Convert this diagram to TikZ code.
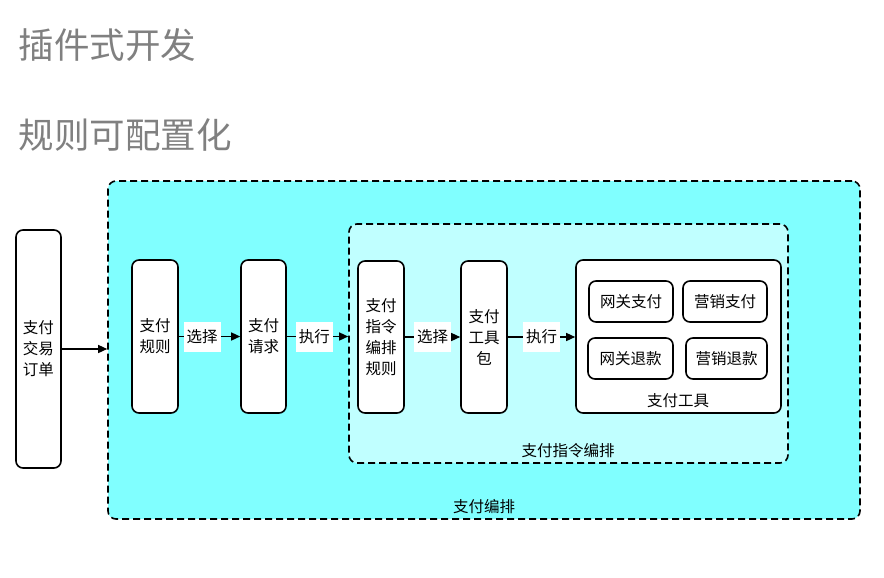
\documentclass[tikz,border=0pt]{standalone}
\usepackage{fontspec}
\setmainfont{Noto Sans CJK SC}
\usetikzlibrary{arrows.meta}
\definecolor{titlegray}{RGB}{128,128,128}
\definecolor{outercyan}{RGB}{128,255,255}
\definecolor{innercyan}{RGB}{192,255,255}
\tikzset{
    box/.style={draw=black, line width=1.6pt, fill=white, rounded corners=7pt,
        align=center, font=\fontsize{15.5}{21}\selectfont, inner sep=0pt},
    group/.style={draw=black, line width=1.6pt, dash pattern=on 7pt off 4pt,
        rounded corners=8pt, inner sep=0pt},
    flow/.style={line width=1.4pt, -{Triangle[length=9pt,width=8pt]}},
    tag/.style={fill=white, font=\fontsize{15.5}{18}\selectfont, inner sep=3pt,
        minimum height=30pt},
    heading/.style={anchor=west, text=titlegray, font=\fontsize{35.5}{38}\selectfont},
}

\begin{document}
\begin{tikzpicture}[x=1pt, y=-1pt]
    \useasboundingbox (0,0) rectangle (884,578);
    % Titles.
        \node[heading] (plugin) at (15,45) {插件式开发};
        \node[heading] (config) at (15,135) {规则可配置化};
    % Dashed groups.
        \node[group, fill=outercyan, minimum width=752, minimum height=338] (outer) at (484,350) {};
        \node[group, fill=innercyan, minimum width=439, minimum height=239] (inner) at (568.5,343.5) {};
        \node[font=\fontsize{15.5}{18}\selectfont] (outerlabel) at (484,507) {支付编排};
        \node[font=\fontsize{15.5}{18}\selectfont] (innerlabel) at (568,451) {支付指令编排};
    % Boxes.
        \node[box, minimum width=45, minimum height=238] (order) at (38.5,349) {支付\\交易\\订单};
        \node[box, minimum width=46, minimum height=153] (rule) at (155,336.5) {支付\\规则};
        \node[box, minimum width=45, minimum height=153] (request) at (263.5,336.5) {支付\\请求};
        \node[box, minimum width=46, minimum height=152] (cmdrule) at (381,337) {支付\\指令\\编排\\规则};
        \node[box, minimum width=46, minimum height=152] (toolkit) at (484,337) {支付\\工具\\包};
        \node[box, minimum width=205, minimum height=153] (tools) at (678.5,336.5) {};
        \node[font=\fontsize{15.5}{18}\selectfont] (toolslabel) at (678,401) {支付工具};
        \node[box, minimum width=84, minimum height=41] (gwpay) at (631,301.5) {网关支付};
        \node[box, minimum width=84, minimum height=41] (mkpay) at (725,301.5) {营销支付};
        \node[box, minimum width=85, minimum height=41] (gwrefund) at (630.5,358.5) {网关退款};
        \node[box, minimum width=81, minimum height=41] (mkrefund) at (726.5,358.5) {营销退款};
    % Connectors and their labels.
        \draw[flow] (order.east) -- (order.east -| outer.west);
        \draw[flow] (rule.east) -- node[tag, pos=0.38] {选择} (request.west);
        \draw[flow] (request.east) -- node[tag, pos=0.45] {执行} (request.east -| inner.west);
        \draw[flow] (cmdrule.east) -- node[tag] {选择} (toolkit.west);
        \draw[flow] (toolkit.east) -- node[tag] {执行} (toolkit.east -| tools.west);
\end{tikzpicture}
\end{document}
